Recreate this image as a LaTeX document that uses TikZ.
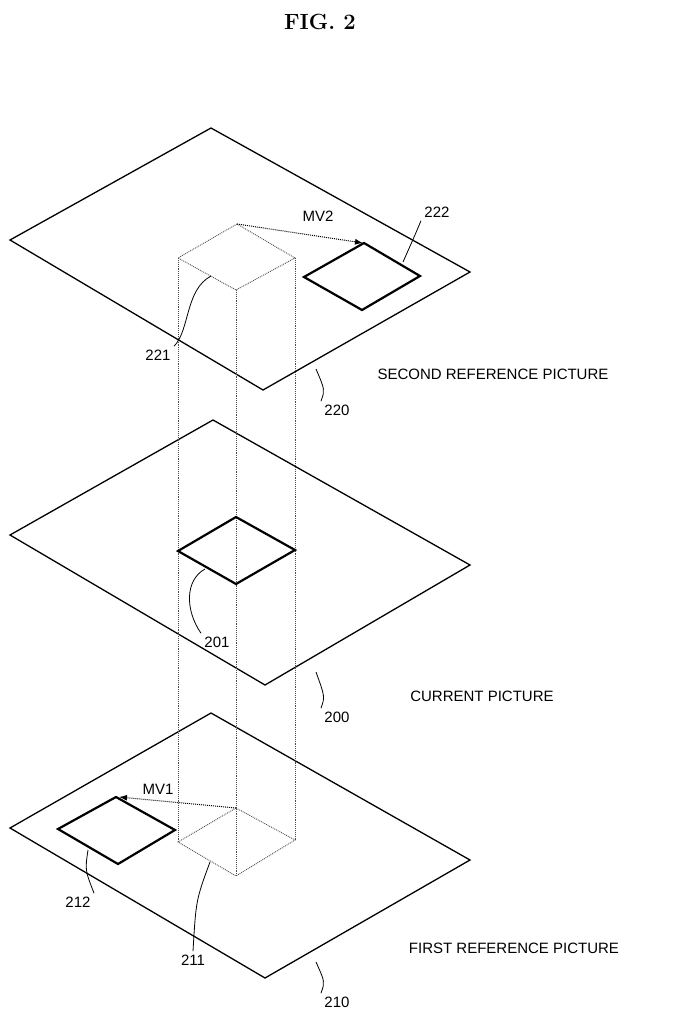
\documentclass[tikz,border=0pt]{standalone}
\usepackage{fontspec}
\usetikzlibrary{arrows.meta}
\setsansfont{Liberation Sans}
\begin{document}
\begin{tikzpicture}[x=1pt,y=-1pt,
    plane/.style={line width=1.3pt},
    blk/.style={line width=2.2pt},
    hid/.style={densely dotted,line width=0.9pt,black!70},
    lead/.style={line width=0.8pt},
    lbl/.style={font=\sffamily\fontsize{15}{18}\selectfont},
    mv/.style={densely dotted,line width=1pt,-{Latex[length=8pt,width=6pt]}}]
    \useasboundingbox (0,0) rectangle (677,1024);
    \node[font=\bfseries\fontsize{22}{26}\selectfont] (fig) at (320,22) {FIG.\ 2};

    % planes
    \draw[plane] (211,128) -- (470,272) -- (263,390) -- (10,240) -- cycle;
    \draw[plane] (213,420) -- (470,565) -- (265,685) -- (10,535) -- cycle;
    \draw[plane] (211,713) -- (470,860) -- (265,978) -- (10,828) -- cycle;

    % dotted column
    \coordinate (t) at (237,224); \coordinate (b) at (236,808);
    \draw[hid] (t) -- (178,258) -- (236,290) -- (295,258) -- cycle;
    \draw[hid] (b) -- (178,842) -- (236,876) -- (295,840) -- cycle;
    \draw[hid] (178,258) -- (178,842);
    \draw[hid] (236,290) -- (236,876);
    \draw[hid] (295,258) -- (295,840);

    % blocks
    \draw[blk] (236,517) -- (295,550) -- (236,584) -- (178,551) -- cycle;
    \draw[blk] (364,243) -- (420,276) -- (362,310) -- (304,277) -- cycle;
    \draw[blk] (116,797) -- (175,830) -- (118,864) -- (58,829) -- cycle;

    % motion vectors
    \draw[mv] (t) -- (363,243);
    \draw[mv] (b) -- (119,797);
    \node[lbl] (mv2) at (318,216) {MV2};
    \node[lbl] (mv1) at (158,789) {MV1};

    % reference numerals
    \node[lbl] (n222) at (437,212) {222};
    \node[lbl] (n221) at (158,355) {221};
    \node[lbl] (n220) at (337,410) {220};
    \node[lbl] (n201) at (217,642) {201};
    \node[lbl] (n200) at (337,717) {200};
    \node[lbl] (n212) at (78,902) {212};
    \node[lbl] (n211) at (193,960) {211};
    \node[lbl] (n210) at (337,1002) {210};
    \draw[lead] (n222.south west) .. controls (415,235) .. (403,262);
    \draw[lead] (n221.north east) .. controls (190,330) and (185,290) .. (211,276);
    \draw[lead] (n220.north west) .. controls (325,390) .. (316,369);
    \draw[lead] (n201.north west) .. controls (185,610) and (185,580) .. (205,569);
    \draw[lead] (n200.north west) .. controls (325,697) .. (316,672);
    \draw[lead] (n212.north east) .. controls (85,870) .. (88,850);
    \draw[lead] (n211.north) .. controls (196,900) .. (210,862);
    \draw[lead] (n210.north west) .. controls (325,982) .. (316,962);

    % picture names
    \node[lbl] (p2) at (493,374) {SECOND REFERENCE PICTURE};
    \node[lbl] (p0) at (482,696) {CURRENT PICTURE};
    \node[lbl] (p1) at (514,948) {FIRST REFERENCE PICTURE};
\end{tikzpicture}
\end{document}
